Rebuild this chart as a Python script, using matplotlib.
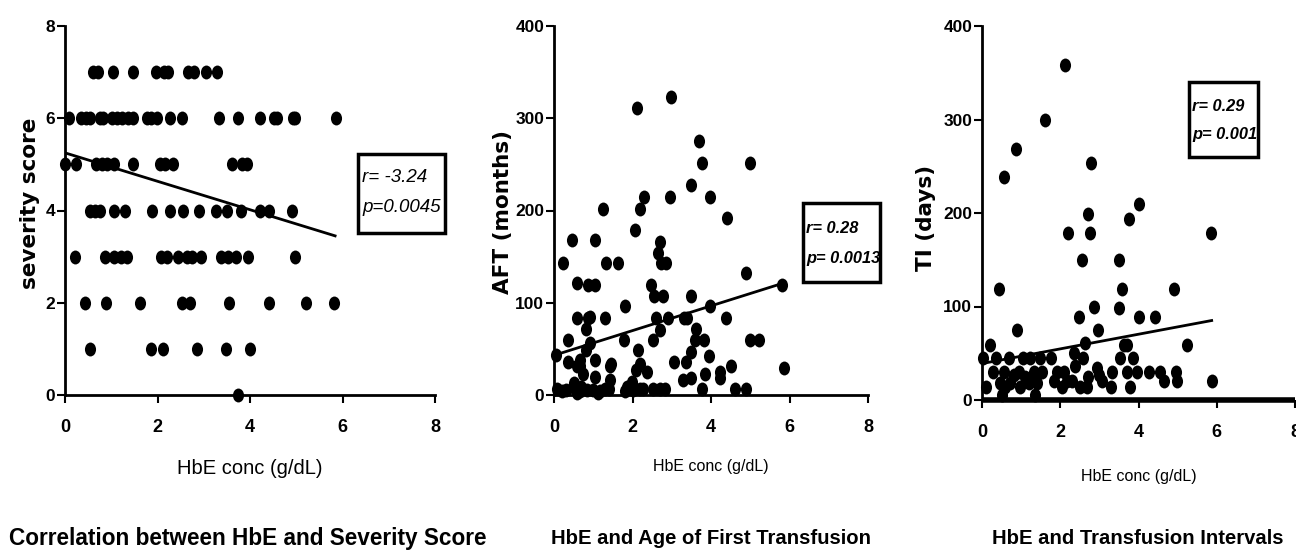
import matplotlib
matplotlib.use("Agg")
from matplotlib import pyplot as plt
from matplotlib.path import Path
from matplotlib.markers import MarkerStyle
from matplotlib.patches import Rectangle

SANS = ['Liberation Sans', 'DejaVu Sans']

# Panel 1: HbE vs severity score
hbe1 = [0.61, 0.72, 1.03, 1.46, 1.97, 2.13, 2.22, 2.67, 2.78, 3.04, 3.28,
        0.09, 0.35, 0.46, 0.53, 0.76, 0.83, 1.01, 1.12, 1.23, 1.37, 1.48, 1.77,
        1.87, 1.98, 2.27, 2.52, 3.34, 3.73, 4.22, 4.52, 4.58, 4.92, 4.97, 5.86,
        0.01, 0.24, 0.68, 0.79, 0.90, 1.05, 1.46, 2.05, 2.16, 2.34, 3.60, 3.82, 3.93,
        0.54, 0.65, 0.76, 1.05, 1.30, 1.89, 2.28, 2.56, 2.90, 3.26, 3.51, 3.80,
        4.22, 4.40, 4.90,
        0.22, 0.86, 1.05, 1.20, 1.35, 2.08, 2.20, 2.45, 2.63, 2.74, 2.94, 3.37,
        3.53, 3.70, 3.96, 4.97,
        0.43, 0.89, 1.62, 2.52, 2.70, 3.55, 4.42, 5.21, 5.82,
        0.55, 1.87, 2.11, 2.85, 3.48, 3.99,
        3.73]
score1 = [7] * 11 + [6] * 24 + [5] * 13 + [4] * 15 + [3] * 16 + [2] * 9 + [1] * 6 + [0]
fit1_x = [0, 5.84]
fit1_y = [5.25, 3.45]

# Panel 2: HbE vs age of first transfusion
hbe2 = [0.24, 0.47, 0.58, 0.58, 0.36, 0.35, 0.05, 0.51, 0.66, 0.75, 0.81, 0.81,
        0.87, 0.87, 1.04, 1.04, 0.92, 0.92, 1.04, 1.04, 1.24, 1.32, 1.30, 1.16,
        1.42, 1.46, 1.42, 1.62, 1.78, 1.82, 1.85, 1.98, 2.06, 2.12, 2.20, 2.29,
        2.15, 2.10, 2.19, 2.36, 2.27, 2.48, 2.51, 2.54, 2.60, 2.70, 2.65, 2.73,
        2.78, 2.70, 2.85, 2.91, 2.95, 2.99, 2.53, 2.70, 2.82, 3.06, 3.31, 3.38,
        3.29, 3.36, 3.48, 3.50, 3.50, 3.48, 3.63, 3.59, 3.70, 3.76, 3.82, 3.84,
        3.76, 3.97, 3.97, 3.95, 4.22, 4.22, 4.39, 4.42, 4.52, 4.61, 4.89, 4.90,
        4.99, 4.99, 5.22, 5.82, 5.85,
        0.07, 0.20, 0.31, 0.48, 0.58, 0.66, 0.70, 0.83, 1.00, 1.13, 1.30, 1.39,
        1.81, 1.85, 2.02, 2.19, 0.66, 0.58]
aft = [143, 168, 121, 83, 60, 36, 43, 13, 31, 23, 49, 72,
       83, 119, 119, 168, 85, 56, 38, 20, 202, 143, 83, 4,
       31, 34, 16, 143, 60, 96, 9, 14, 179, 311, 202, 215,
       49, 27, 34, 25, 7, 119, 60, 107, 83, 166, 154, 143,
       107, 70, 143, 83, 215, 323, 7, 7, 7, 36, 83, 83,
       16, 36, 47, 107, 18, 228, 72, 60, 275, 251, 60, 23,
       7, 215, 96, 42, 25, 18, 83, 192, 31, 7, 132, 7,
       251, 60, 60, 119, 29,
       7, 4, 5, 9, 2, 4, 9, 5, 5, 2, 7, 7,
       4, 7, 5, 7, 38, 31]
fit2_x = [0, 5.82]
fit2_y = [43, 121]

# Panel 3: HbE vs transfusion interval
hbe3 = [2.11, 1.62, 0.88, 0.57, 0.44, 0.89, 2.79, 2.70, 2.75, 2.21, 2.55, 2.85,
        2.47, 2.96, 2.64, 2.34, 2.57, 4.00, 3.76, 3.50, 3.59, 3.51, 4.00, 4.43,
        4.92, 5.23, 5.86, 5.89, 3.62, 3.70, 3.53, 3.86, 4.26, 4.55, 4.64, 4.96,
        4.99, 3.79, 3.96, 3.70, 3.32, 3.29, 3.06, 2.94, 2.98, 2.72, 2.51, 2.68,
        2.38, 2.30,
        0.03, 0.11, 0.21, 0.37, 0.28, 0.47, 0.51, 0.55, 0.68, 0.72, 0.81, 0.98,
        1.06, 1.11, 1.23, 1.32, 1.36, 1.40, 1.47, 1.53, 1.77, 1.83, 1.91, 2.04,
        2.09, 2.17, 0.60, 0.94, 1.19]
ti = [358, 299, 268, 239, 119, 75, 254, 199, 179, 179, 150, 100,
      89, 75, 61, 50, 45, 210, 194, 150, 119, 98, 89, 89,
      119, 59, 179, 20, 59, 59, 45, 45, 30, 30, 20, 30,
      20, 14, 30, 30, 30, 14, 20, 34, 27, 25, 14, 14,
      36, 20,
      45, 14, 59, 45, 30, 18, 5, 30, 45, 18, 27, 14,
      45, 25, 45, 30, 5, 18, 45, 30, 45, 20, 30, 14,
      30, 20, 14, 30, 18]
fit3_x = [0, 5.87]
fit3_y = [39, 85]

xticks = [0, 2, 4, 6, 8]
titles = ['Correlation between HbE and Severity Score',
          'HbE and Age of First Transfusion',
          'HbE and Transfusion Intervals']
ylabels = ['severity score', 'AFT (months)', 'TI (days)']
stats = [('r= -3.24', 'p=0.0045'), ('r= 0.28', 'p= 0.0013'), ('r= 0.29', 'p= 0.001')]

# ellipse marker, a bit taller than wide
circ = Path.unit_circle()
dot = MarkerStyle(Path(circ.vertices * [0.8, 1.0], circ.codes))

fig = plt.figure(figsize=(12.96, 5.54), dpi=100)
W, H = 1296.0, 554.0


def fx(px):
    return px / W


def fy(py):
    return 1 - py / H


def make_ax(x0, x1, ytop, ybot):
    return fig.add_axes([fx(x0), fy(ybot), (x1 - x0) / W, (ybot - ytop) / H])


ax1 = make_ax(65, 435, 26, 395)
ax2 = make_ax(554, 868, 26, 395)
ax3 = make_ax(982, 1295, 26, 400)

panels = [
    (ax1, hbe1, score1, fit1_x, fit1_y, [0, 8], [0, 2, 4, 6, 8]),
    (ax2, hbe2, aft, fit2_x, fit2_y, [0, 400], [0, 100, 200, 300, 400]),
    (ax3, hbe3, ti, fit3_x, fit3_y, [0, 400], [0, 100, 200, 300, 400]),
]

for ax, x, y, lx, ly, ylim, yt in panels:
    ax.scatter(x, y, s=100, marker=dot, color='black', linewidths=0, clip_on=False, zorder=3)
    ax.plot(lx, ly, color='black', lw=2, zorder=2)
    ax.set_xlim(0, 8)
    ax.set_ylim(ylim)
    ax.set_xticks(xticks)
    ax.set_yticks(yt)
    for s in ['top', 'right']:
        ax.spines[s].set_visible(False)
    ax.spines['left'].set_linewidth(2)
    ax.spines['bottom'].set_linewidth(2)
    ax.tick_params(direction='out', length=6, width=1.5, color='black')
    ax.tick_params(axis='x', pad=11)
    ax.tick_params(axis='y', pad=1)
    for lab in ax.get_xticklabels():
        lab.set_family(SANS)
        lab.set_fontweight('bold')
        lab.set_fontsize(13)
    for lab in ax.get_yticklabels():
        lab.set_family(SANS)
        lab.set_fontweight('bold')
        lab.set_fontsize(12.5)

ax3.spines['bottom'].set_linewidth(4)
ax3.spines['bottom'].set_capstyle('butt')

# y labels
for (px, py), t in zip([(30, 203), (503, 212), (926, 218)], ylabels):
    fig.text(fx(px), fy(py), t, rotation=90, ha='center', va='center',
             family=['DejaVu Sans'], fontweight='bold', fontsize=15.5)

# x labels
fig.text(fx(250), fy(468), 'HbE conc (g/dL)', ha='center', va='center',
         family=SANS, fontsize=14.5)
fig.text(fx(711), fy(467), 'HbE conc (g/dL)', ha='center', va='center',
         family=SANS, fontsize=11.5)
fig.text(fx(1139), fy(476), 'HbE conc (g/dL)', ha='center', va='center',
         family=SANS, fontsize=11.5)

# panel titles
for tx, t, fs in zip([248, 711, 1138], titles, [16.3, 14.6, 14.6]):
    fig.text(fx(tx), fy(538), t, ha='center', va='center',
             family=SANS, fontweight='bold', fontsize=fs)

# stats boxes: (left, top, right, bottom), text left, line ys, weight, size
boxes = [((358, 154, 445, 233), 362, (177, 208), 'normal', 13.5),
         ((803, 203, 880, 282), 806, (228, 258), 'bold', 11.8),
         ((1189, 82, 1258, 157), 1192, (106, 134), 'bold', 11.8)]
for ((x0, y0, x1, y1), tx, lines_y, wt, fs), lines in zip(boxes, stats):
    fig.add_artist(Rectangle((fx(x0), fy(y1)), (x1 - x0) / W, (y1 - y0) / H,
                             transform=fig.transFigure, fill=False, lw=2.5,
                             edgecolor='black'))
    for ly, t in zip(lines_y, lines):
        fig.text(fx(tx), fy(ly), t, ha='left', va='center', family=SANS,
                 style='italic', fontweight=wt, fontsize=fs)

fig.savefig('out.png', dpi=100)
